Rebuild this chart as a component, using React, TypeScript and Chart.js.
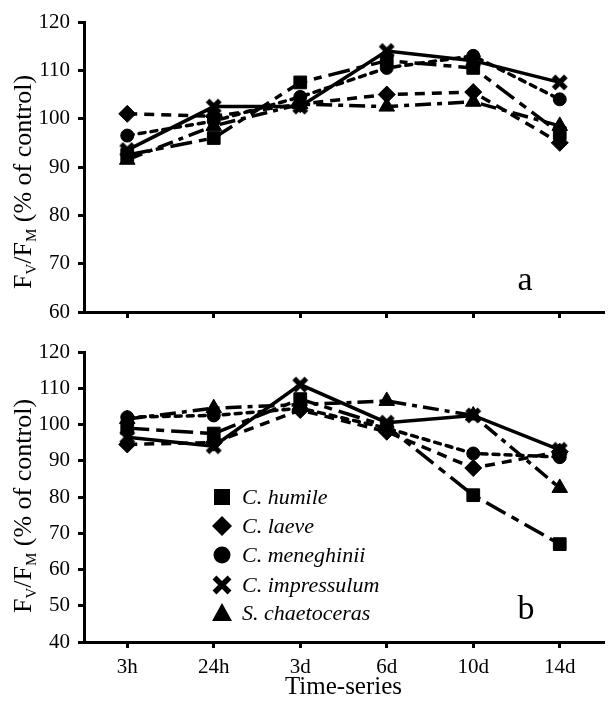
import React, { useEffect, useRef } from "react";
import { Chart, registerables } from "chart.js";

Chart.register(...registerables);

const categories = ["3h", "24h", "3d", "6d", "10d", "14d"];
const speciesNames = ["C. humile", "C. laeve", "C. meneghinii", "C. impressulum", "S. chaetoceras"];

// Panel a
const aHumile = [92.5, 96, 107.5, 112, 110.5, 97];
const aLaeve = [101, 100.5, 103, 105, 105.5, 95];
const aMeneghinii = [96.5, 99.5, 104.5, 110.5, 113, 104];
const aImpressulum = [93.5, 102.5, 102.5, 114, 112, 107.5];
const aChaetoceras = [91.5, 98.5, 103, 102.5, 103.5, 98.5];

// Panel b
const bHumile = [99, 97.5, 107, 99.5, 80.5, 67];
const bLaeve = [94.5, 95, 104, 98, 88, 92.5];
const bMeneghinii = [102, 102.5, 104.5, 99, 92, 91];
const bImpressulum = [96.5, 94, 111, 100.5, 102.5, 93];
const bChaetoceras = [101.5, 104.5, 105.5, 106.5, 102.5, 82.5];

const yRangeA = [60, 120];
const yRangeB = [40, 120];
const yStep = 10;

const SERIF = "'Liberation Serif', 'Times New Roman', serif";
const BLACK = "#000";

const markerKinds = ["square", "diamond", "circle", "x", "triangle"];
const dashes: number[][] = [[22, 7, 8, 7], [10, 7], [6, 6], [], [16, 6, 5, 6]];
const caps = ["butt", "butt", "round", "butt", "butt"];

function makeXImage(size: number) {
  const c = document.createElement("canvas");
  c.width = size;
  c.height = size;
  const g = c.getContext("2d")!;
  g.strokeStyle = BLACK;
  g.lineWidth = size * 0.3;
  g.lineCap = "butt";
  const m = size * 0.14;
  g.beginPath();
  g.moveTo(m, m);
  g.lineTo(size - m, size - m);
  g.moveTo(size - m, m);
  g.lineTo(m, size - m);
  g.stroke();
  return c;
}

function drawMarker(ctx: CanvasRenderingContext2D, kind: string, x: number, y: number) {
  ctx.save();
  ctx.fillStyle = BLACK;
  ctx.strokeStyle = BLACK;
  ctx.beginPath();
  if (kind === "square") {
    ctx.rect(x - 8, y - 8, 16, 16);
    ctx.fill();
  } else if (kind === "diamond") {
    ctx.moveTo(x, y - 10);
    ctx.lineTo(x + 10, y);
    ctx.lineTo(x, y + 10);
    ctx.lineTo(x - 10, y);
    ctx.closePath();
    ctx.fill();
  } else if (kind === "circle") {
    ctx.arc(x, y, 8.5, 0, Math.PI * 2);
    ctx.fill();
  } else if (kind === "x") {
    ctx.lineWidth = 5.5;
    ctx.moveTo(x - 7.5, y - 7.5);
    ctx.lineTo(x + 7.5, y + 7.5);
    ctx.moveTo(x + 7.5, y - 7.5);
    ctx.lineTo(x - 7.5, y + 7.5);
    ctx.stroke();
  } else if (kind === "triangle") {
    ctx.moveTo(x, y - 10);
    ctx.lineTo(x + 10, y + 8);
    ctx.lineTo(x - 10, y + 8);
    ctx.closePath();
    ctx.fill();
  }
  ctx.restore();
}

function yTitlePlugin(cx: number, cy: number) {
  return {
    id: "yTitle",
    afterDraw(chart: any) {
      const ctx: CanvasRenderingContext2D = chart.ctx;
      const big = `26px ${SERIF}`;
      const small = `15px ${SERIF}`;
      const parts = [
        { t: "F", f: big, dy: 0 },
        { t: "V", f: small, dy: 5 },
        { t: "/F", f: big, dy: 0 },
        { t: "M", f: small, dy: 5 },
        { t: " (% of control)", f: big, dy: 0 },
      ];
      ctx.save();
      let total = 0;
      const widths = parts.map((p) => {
        ctx.font = p.f;
        const w = ctx.measureText(p.t).width;
        total += w;
        return w;
      });
      ctx.translate(cx, cy);
      ctx.rotate(-Math.PI / 2);
      ctx.fillStyle = BLACK;
      ctx.textBaseline = "alphabetic";
      ctx.textAlign = "left";
      let x = -total / 2;
      parts.forEach((p, i) => {
        ctx.font = p.f;
        ctx.fillText(p.t, x, 8 + p.dy);
        x += widths[i];
      });
      ctx.restore();
    },
  };
}

function letterPlugin(letter: string, x: number, y: number) {
  return {
    id: "panelLetter",
    afterDraw(chart: any) {
      const ctx: CanvasRenderingContext2D = chart.ctx;
      ctx.save();
      ctx.font = `34px ${SERIF}`;
      ctx.fillStyle = BLACK;
      ctx.textAlign = "center";
      ctx.textBaseline = "alphabetic";
      ctx.fillText(letter, x, y);
      ctx.restore();
    },
  };
}

function legendPlugin(rows: number[], mx: number, tx: number) {
  return {
    id: "customLegend",
    afterDraw(chart: any) {
      const ctx: CanvasRenderingContext2D = chart.ctx;
      ctx.save();
      ctx.font = `italic 22px ${SERIF}`;
      ctx.fillStyle = BLACK;
      ctx.textAlign = "left";
      ctx.textBaseline = "middle";
      speciesNames.forEach((name, i) => {
        drawMarker(ctx, markerKinds[i], mx, rows[i]);
        ctx.fillText(name, tx, rows[i] + 1);
      });
      ctx.restore();
    },
  };
}

function buildDatasets(series: number[][], xImg: HTMLCanvasElement) {
  const styles: any[] = [
    { pointStyle: "rect", pointRadius: 9 },
    { pointStyle: "rectRot", pointRadius: 8.5 },
    { pointStyle: "circle", pointRadius: 6.5 },
    { pointStyle: xImg, pointRadius: 8 },
    { pointStyle: "triangle", pointRadius: 9 },
  ];
  return series.map((data, i) => ({
    label: speciesNames[i],
    data,
    borderColor: BLACK,
    backgroundColor: BLACK,
    borderWidth: 3.5,
    borderDash: dashes[i],
    borderCapStyle: caps[i],
    tension: 0,
    fill: false,
    pointBackgroundColor: BLACK,
    pointBorderColor: BLACK,
    pointBorderWidth: 1,
    ...styles[i],
  }));
}

function buildOptions(yRange: number[], isBottom: boolean, padTop: number, xHeight: number) {
  return {
    responsive: false,
    animation: false,
    devicePixelRatio: 1,
    layout: { padding: { top: padTop, right: 1, bottom: 0, left: 0 } },
    plugins: { legend: { display: false }, tooltip: { enabled: false } },
    scales: {
      x: {
        type: "category",
        offset: true,
        grid: {
          display: true,
          drawOnChartArea: false,
          drawTicks: true,
          tickLength: 6,
          offset: false,
          color: BLACK,
          lineWidth: 3,
        },
        border: { display: true, color: BLACK, width: 3 },
        ticks: {
          display: isBottom,
          color: BLACK,
          font: { family: SERIF, size: 21 },
          padding: 7,
          maxRotation: 0,
          autoSkip: false,
        },
        title: {
          display: isBottom,
          text: "Time-series",
          color: BLACK,
          font: { family: SERIF, size: 25 },
          padding: { top: 0, bottom: 0 },
        },
        afterFit: (s: any) => {
          s.height = xHeight;
        },
      },
      y: {
        min: yRange[0],
        max: yRange[1],
        ticks: {
          stepSize: yStep,
          color: BLACK,
          font: { family: SERIF, size: 21 },
          padding: 8,
        },
        grid: {
          display: true,
          drawOnChartArea: false,
          drawTicks: true,
          tickLength: 6,
          color: BLACK,
          lineWidth: 3,
        },
        border: { display: true, color: BLACK, width: 3 },
        afterFit: (s: any) => {
          s.width = 84;
        },
      },
    },
  };
}

export default function App() {
  const topRef = useRef<HTMLCanvasElement>(null);
  const botRef = useRef<HTMLCanvasElement>(null);

  useEffect(() => {
    const xImg = makeXImage(17);
    const top = new Chart(topRef.current!, {
      type: "line",
      data: {
        labels: categories,
        datasets: buildDatasets([aHumile, aLaeve, aMeneghinii, aImpressulum, aChaetoceras], xImg) as any,
      },
      options: buildOptions(yRangeA, false, 22, 28) as any,
      plugins: [yTitlePlugin(23, 182), letterPlugin("a", 525, 290)],
    });
    const bot = new Chart(botRef.current!, {
      type: "line",
      data: {
        labels: categories,
        datasets: buildDatasets([bHumile, bLaeve, bMeneghinii, bImpressulum, bChaetoceras], xImg) as any,
      },
      options: buildOptions(yRangeB, true, 32, 60) as any,
      plugins: [
        yTitlePlugin(23, 186),
        letterPlugin("b", 526, 299),
        legendPlugin([177, 206, 235, 265, 293], 222, 242),
      ],
    });
    return () => {
      top.destroy();
      bot.destroy();
    };
  }, []);

  return (
    <div style={{ position: "absolute", left: 0, top: 0, width: 613, height: 702, background: "#fff", overflow: "hidden" }}>
      <canvas
        ref={topRef}
        width={613}
        height={340}
        style={{ position: "absolute", left: 0, top: 0, display: "block", width: 613, height: 340 }}
      />
      <canvas
        ref={botRef}
        width={613}
        height={382}
        style={{ position: "absolute", left: 0, top: 320, display: "block", width: 613, height: 382 }}
      />
    </div>
  );
}
